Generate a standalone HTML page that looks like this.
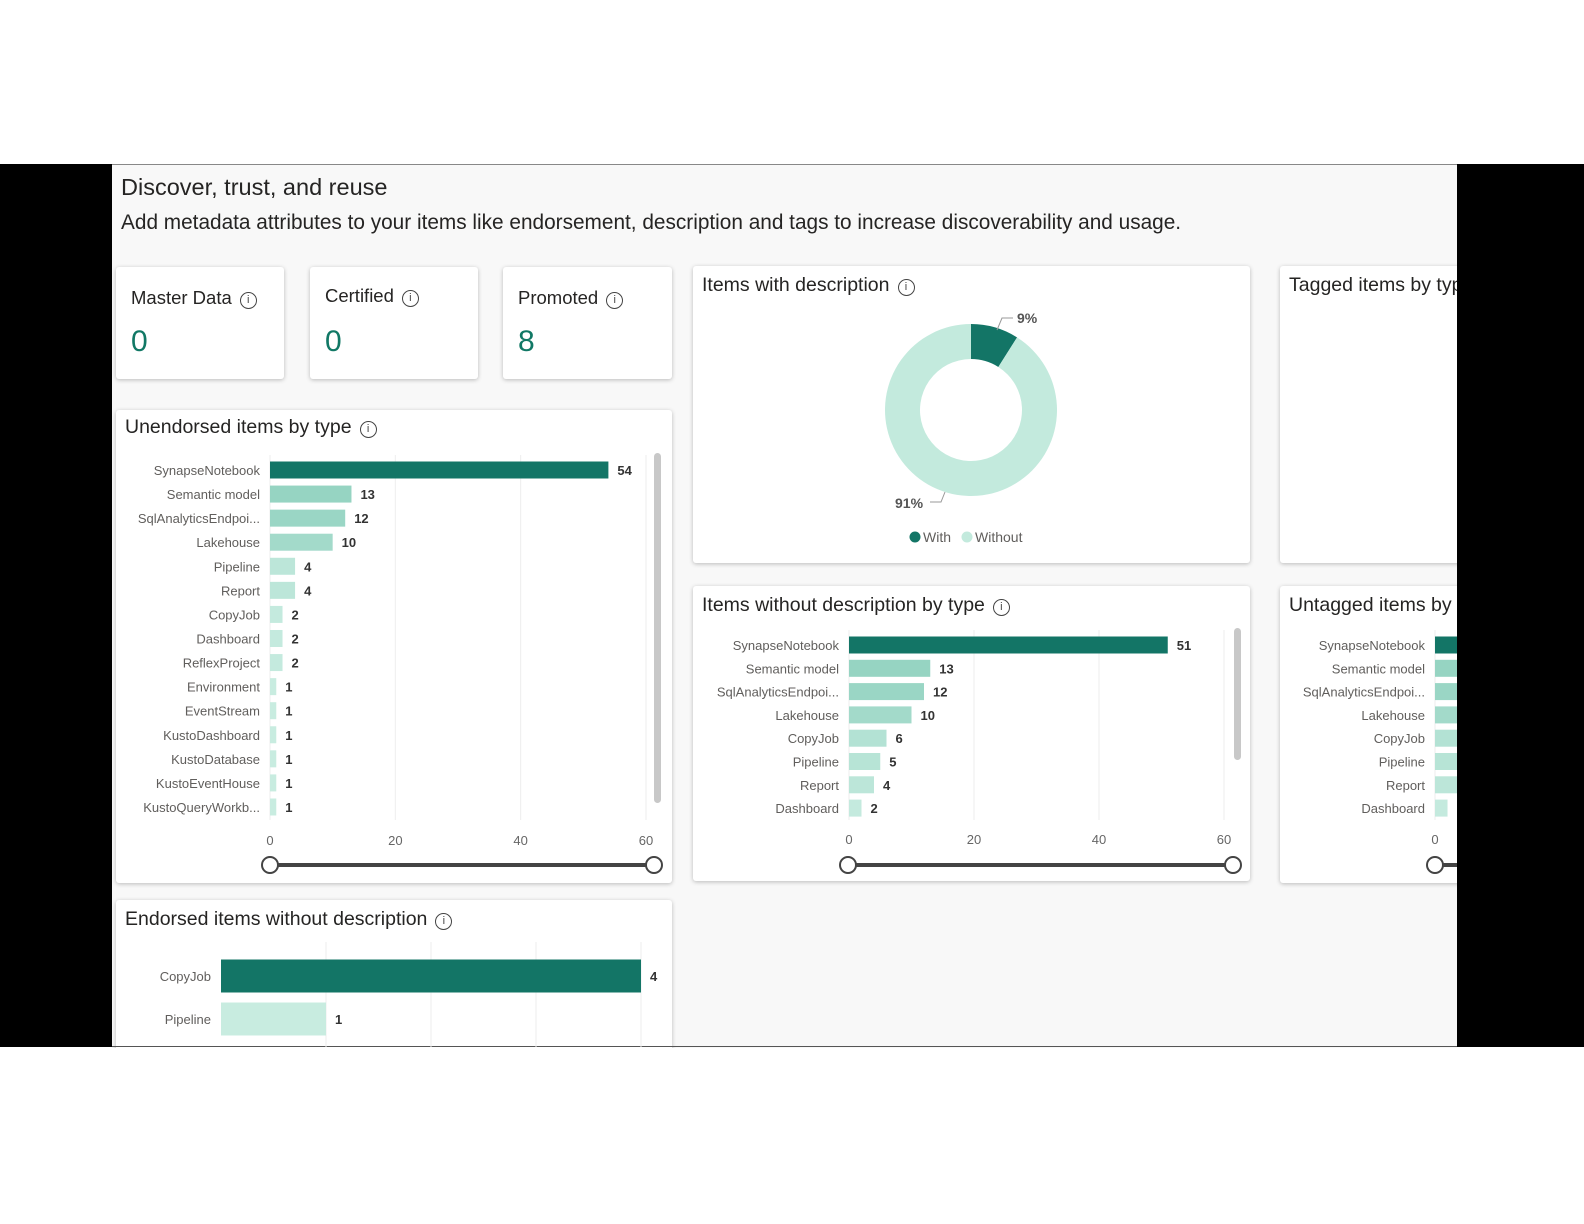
<!DOCTYPE html>
<html><head><meta charset="utf-8">
<style>
body{margin:0;width:1584px;height:1224px;background:#fff;font-family:"Liberation Sans",sans-serif;position:relative;overflow:hidden}
.abs{position:absolute}
.card{position:absolute;background:#fff;box-shadow:0 1px 4px rgba(0,0,0,.25);border-radius:3px}
.kt{position:absolute;left:15px;top:20px;font-size:18.5px;color:#252423}
.kv{position:absolute;left:15px;top:58px;font-size:30px;color:#117865}
.ct{position:absolute;left:9px;top:8px;font-size:19.5px;color:#252423;white-space:nowrap}
.ic{display:inline-block;width:15px;height:15px;border:1.3px solid #444;border-radius:50%;font-size:11px;line-height:15px;text-align:center;vertical-align:1px;margin-left:8px;color:#444}
</style></head><body>
<div class="abs" style="left:0;top:164px;width:112px;height:883px;background:#000"></div>
<div class="abs" style="left:1457px;top:164px;width:127px;height:883px;background:#000"></div>
<div class="abs" style="left:112px;top:164px;width:1345px;height:883px;background:#f8f8f8;border-top:1px solid #888;overflow:hidden">
 <div class="abs" style="left:9px;top:9px;font-size:23.5px;color:#252423">Discover, trust, and reuse</div>
 <div class="abs" style="left:9px;top:46px;font-size:20.8px;color:#252423">Add metadata attributes to your items like endorsement, description and tags to increase discoverability and usage.</div>

 <div class="card" style="left:4px;top:102px;width:168px;height:112px"><div class="kt">Master Data<span class="ic">i</span></div><div class="kv">0</div></div>
 <div class="card" style="left:198px;top:102px;width:168px;height:112px"><div class="kt" style="top:18px">Certified<span class="ic">i</span></div><div class="kv">0</div></div>
 <div class="card" style="left:391px;top:102px;width:169px;height:112px"><div class="kt">Promoted<span class="ic">i</span></div><div class="kv">8</div></div>

 <div class="card" style="left:4px;top:245px;width:556px;height:473px"><div class="ct" style="top:6px">Unendorsed items by type<span class="ic">i</span></div></div>
 <div class="card" style="left:581px;top:101px;width:557px;height:297px"><div class="ct">Items with description<span class="ic">i</span></div></div>
 <div class="card" style="left:1168px;top:101px;width:200px;height:297px"><div class="ct">Tagged items by type</div></div>
 <div class="card" style="left:581px;top:421px;width:557px;height:295px"><div class="ct">Items without description by type<span class="ic">i</span></div></div>
 <div class="card" style="left:1168px;top:421px;width:200px;height:297px"><div class="ct">Untagged items by type</div></div>
 <div class="card" style="left:4px;top:735px;width:556px;height:200px"><div class="ct">Endorsed items without description<span class="ic">i</span></div></div>
</div>
<div class="abs" style="left:112px;top:1046px;width:1345px;height:1px;background:#555"></div>

<svg id="chart" class="abs" style="left:0;top:0" width="1584" height="1224">
 <defs><clipPath id="clipR"><rect x="112" y="164" width="1345" height="883"/></clipPath></defs>
 <g id="g" clip-path="url(#clipR)"></g>
</svg>
<script>
const unendCats=["SynapseNotebook","Semantic model","SqlAnalyticsEndpoi...","Lakehouse","Pipeline","Report","CopyJob","Dashboard","ReflexProject","Environment","EventStream","KustoDashboard","KustoDatabase","KustoEventHouse","KustoQueryWorkb..."];
const unendVals=[54,13,12,10,4,4,2,2,2,1,1,1,1,1,1];
const noDescCats=["SynapseNotebook","Semantic model","SqlAnalyticsEndpoi...","Lakehouse","CopyJob","Pipeline","Report","Dashboard"];
const noDescVals=[51,13,12,10,6,5,4,2];
const untagCats=["SynapseNotebook","Semantic model","SqlAnalyticsEndpoi...","Lakehouse","CopyJob","Pipeline","Report","Dashboard"];
const untagVals=[51,13,12,10,6,5,4,2];
const endCats=["CopyJob","Pipeline"];
const endVals=[4,1];
const donutLabels=["With","Without"];
const donutVals=[9,91];
const xTicks=[0,20,40,60];

const NS="http://www.w3.org/2000/svg",G=document.getElementById('g');
function mk(t,a,txt){const e=document.createElementNS(NS,t);for(const k in a)e.setAttribute(k,a[k]);if(txt!==undefined)e.textContent=txt;G.appendChild(e);return e;}
function lerp(a,b,t){return Math.round(a+(b-a)*t);}
function col(v,max){if(v===max)return "#137566";const t=Math.min(1,(v-1)/12);return `rgb(${lerp(200,150,t)},${lerp(236,212,t)},${lerp(224,194,t)})`;}

function barChart(o){
 const x=v=>o.x0+(v-o.dmin)/(o.dmax-o.dmin)*(o.x1-o.x0);
 const y=i=>o.yc0+i*o.step;
 const max=Math.max(...o.vals);
 if(o.ticks){o.ticks.forEach(t=>{
  let l=mk('line',{x1:x(t),x2:x(t),y1:o.gy0,y2:o.gy1,stroke:"#eee"});
  
  let tx=mk('text',{x:x(t),y:o.tickY,'text-anchor':'middle','font-size':13,fill:'#666'},t);
  
 });}
 if(o.grid){o.grid.forEach(t=>{let l=mk('line',{x1:x(t),x2:x(t),y1:o.gy0,y2:o.gy1,stroke:"#eee"});
  });}
 o.cats.forEach((c,i)=>{
  const v=o.vals[i];
  let lb=mk('text',{x:o.x0-10,y:y(i)+5,'text-anchor':'end','font-size':o.fs,fill:'#605e5c'},c);
  
  let r=mk('rect',{x:x(0),y:y(i)-o.bh/2,width:x(v)-x(0),height:o.bh,fill:col(v,max)});
  
  
  if(o.labels!==false){let dl=mk('text',{x:x(v)+9,y:y(i)+5,'font-size':13,'font-weight':'bold',fill:'#333'},v);
  }
 });
 if(o.slider){const s=o.slider;
  let l=mk('line',{x1:s.a,x2:s.b,y1:s.y,y2:s.y,stroke:'#444','stroke-width':4});
  
  [s.a,s.b].forEach(cx=>{let c=mk('circle',{cx:cx,cy:s.y,r:8,fill:'#fff',stroke:'#444','stroke-width':2});
   });}
 if(o.scroll){let sb=mk('rect',{x:o.scroll.x,y:o.scroll.y0,width:7,height:o.scroll.y1-o.scroll.y0,rx:3.5,fill:'#c8c8c8'});
  }
}
barChart({cats:unendCats,vals:unendVals,x0:270,x1:646,dmin:0,dmax:60,yc0:470,step:24.07,bh:17,fs:13,ticks:xTicks,gy0:455,gy1:820,tickY:845,slider:{a:270,b:654,y:865},scroll:{x:654,y0:453,y1:803}});
barChart({cats:noDescCats,vals:noDescVals,x0:849,x1:1224,dmin:0,dmax:60,yc0:645,step:23.3,bh:17,fs:13,ticks:xTicks,gy0:630,gy1:820,tickY:844,slider:{a:848,b:1233,y:865},scroll:{x:1234,y0:628,y1:760}});
barChart({cats:untagCats,vals:untagVals,x0:1435,x1:1811,dmin:0,dmax:60,yc0:645,step:23.3,bh:17,fs:13,ticks:[0],gy0:630,gy1:820,tickY:844,labels:false,slider:{a:1435,b:1800,y:865}});
barChart({cats:endCats,vals:endVals,x0:221,x1:641,dmin:0,dmax:4,yc0:976,step:43,bh:33,fs:13,grid:[1,2,3,4],gy0:942,gy1:1047});

(function(){
 const cx=971,cy=410,R=86,r=51,tot=donutVals.reduce((a,b)=>a+b,0),cols=["#137566","#c3eadd"];
 let a0=-Math.PI/2;
 donutVals.forEach((v,i)=>{
  const a1=a0+v/tot*2*Math.PI,lg=(a1-a0)>Math.PI?1:0;
  const p=(rr,a)=>[cx+rr*Math.cos(a),cy+rr*Math.sin(a)];
  const [x1,y1]=p(R,a0),[x2,y2]=p(R,a1),[x3,y3]=p(r,a1),[x4,y4]=p(r,a0);
  let s=mk('path',{d:`M${x1},${y1}A${R},${R} 0 ${lg} 1 ${x2},${y2}L${x3},${y3}A${r},${r} 0 ${lg} 0 ${x4},${y4}Z`,fill:cols[i]});
  
  a0=a1;
 });
 let t1=mk('text',{x:1017,y:323,'font-size':14,'font-weight':'bold',fill:'#555'},donutVals[0]+"%");
 
 mk('path',{d:'M997,330 L1002,318 L1013,318',fill:'none',stroke:'#999'});
 let t2=mk('text',{x:895,y:508,'font-size':14,'font-weight':'bold',fill:'#555'},donutVals[1]+"%");
 
 mk('path',{d:'M930,502 L941,502 L945,492',fill:'none',stroke:'#999'});
 const lx=[915,967];
 donutLabels.forEach((l,i)=>{
  let c=mk('circle',{cx:lx[i],cy:537,r:5.5,fill:cols[i]});
  let t=mk('text',{x:lx[i]+8,y:542,'font-size':14,fill:'#605e5c'},l);
 });
})();
</script>
</body></html>
